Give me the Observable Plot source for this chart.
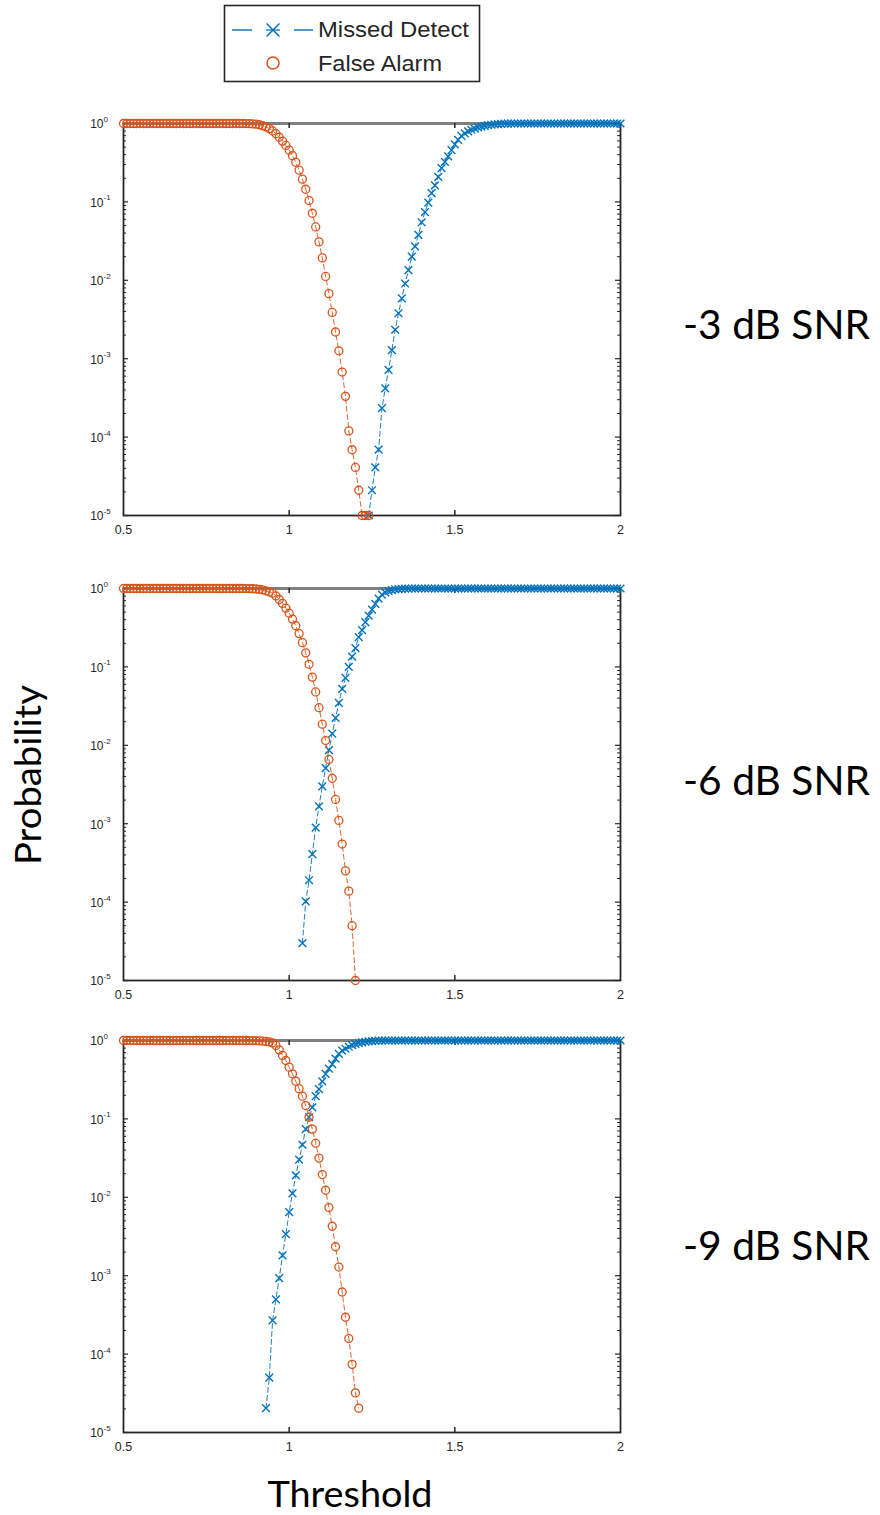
<!DOCTYPE html>
<html>
<head>
<meta charset="utf-8">
<script src="https://cdn.jsdelivr.net/npm/d3@7"></script>
<script src="https://cdn.jsdelivr.net/npm/@observablehq/plot@0.6"></script>
<style>
  html, body { margin: 0; padding: 0; background: #fff; }
  #root { position: relative; width: 880px; height: 1515px; overflow: hidden; background: #fff; }
  #root svg { position: absolute; overflow: visible; }
</style>
</head>
<body>
<div id="root"></div>
<script>
// ---------------- DATA ----------------
// Threshold grid step is 0.01; each series lists probabilities from its start threshold.
const panelLabels = ["-3 dB SNR", "-6 dB SNR", "-9 dB SNR"];
const seriesNames = ["Missed Detect", "False Alarm"];
const xTickValues = [0.5, 1, 1.5, 2];
const yTickExponents = [0, -1, -2, -3, -4, -5];

// -3 dB SNR
const falseAlarmStart_m3 = 0.50;
const falseAlarm_m3 = [
  1,1,1,1,1,1,1,1,1,1,                                                  // 0.50–0.59
  1,1,1,1,1,1,1,1,1,1,                                                  // 0.60–0.69
  1,1,1,1,1,1,1,1,1,1,                                                  // 0.70–0.79
  1,1,1,1,1,1,1,0.998,0.995,0.989,                                      // 0.80–0.89
  0.979,0.964,0.940,0.906,0.861,0.804,0.741,0.668,0.596,0.525,          // 0.90–0.99
  0.457,0.389,0.320,0.254,0.195,0.145,0.104,0.0716,0.0479,0.0309,       // 1.00–1.09
  0.0193,0.0112,0.00676,0.00389,0.00219,0.00126,0.000676,0.000331,0.000120,0.000069, // 1.10–1.19
  0.000041,0.000021,0.00001,0.00001,0.00001                             // 1.20–1.24
];
const missedDetectStart_m3 = 1.24;
const missedDetect_m3 = [
  0.00001,0.000021,0.000041,0.000069,0.000234,0.000417,                 // 1.24–1.29
  0.00072,0.00129,0.00234,0.0038,0.0059,0.0091,0.0135,0.020,0.027,0.038, // 1.30–1.39
  0.055,0.074,0.098,0.129,0.162,0.209,0.269,0.324,0.380,0.457,          // 1.40–1.49
  0.543,0.617,0.697,0.750,0.794,0.832,0.861,0.891,0.912,0.933,          // 1.50–1.59
  0.951,0.964,0.975,0.984,0.991,0.995,0.998,1,1,1,                      // 1.60–1.69
  1,1,1,1,1,1,1,1,1,1,                                                  // 1.70–1.79
  1,1,1,1,1,1,1,1,1,1,                                                  // 1.80–1.89
  1,1,1,1,1,1,1,1,1,1,1                                                 // 1.90–2.00
];

// -6 dB SNR
const falseAlarmStart_m6 = 0.50;
const falseAlarm_m6 = [
  1,1,1,1,1,1,1,1,1,1,                                                  // 0.50–0.59
  1,1,1,1,1,1,1,1,1,1,                                                  // 0.60–0.69
  1,1,1,1,1,1,1,1,1,1,                                                  // 0.70–0.79
  1,1,1,1,1,1,1,0.999,0.997,0.993,                                      // 0.80–0.89
  0.986,0.975,0.958,0.935,0.905,0.871,0.804,0.724,0.646,0.562,          // 0.90–0.99
  0.484,0.407,0.335,0.266,0.204,0.151,0.108,0.0741,0.0479,0.0302,       // 1.00–1.09
  0.0186,0.0115,0.0066,0.0038,0.00204,0.0011,0.00055,0.00025,0.000138,0.00005, // 1.10–1.19
  0.00001                                                               // 1.20
];
const missedDetectStart_m6 = 1.04;
const missedDetect_m6 = [
  0.00003,0.000102,0.00019,0.00041,0.00089,0.00166,                     // 1.04–1.09
  0.0030,0.0051,0.0087,0.0141,0.0224,0.0347,0.0525,0.0724,0.100,0.135,  // 1.10–1.19
  0.174,0.240,0.295,0.372,0.452,0.537,0.638,0.741,0.838,0.891,          // 1.20–1.29
  0.929,0.955,0.973,0.984,0.991,0.995,0.998,1,1,1,                      // 1.30–1.39
  1,1,1,1,1,1,1,1,1,1,                                                  // 1.40–1.49
  1,1,1,1,1,1,1,1,1,1,                                                  // 1.50–1.59
  1,1,1,1,1,1,1,1,1,1,                                                  // 1.60–1.69
  1,1,1,1,1,1,1,1,1,1,                                                  // 1.70–1.79
  1,1,1,1,1,1,1,1,1,1,                                                  // 1.80–1.89
  1,1,1,1,1,1,1,1,1,1,1                                                 // 1.90–2.00
];

// -9 dB SNR
const falseAlarmStart_m9 = 0.50;
const falseAlarm_m9 = [
  1,1,1,1,1,1,1,1,1,1,                                                  // 0.50–0.59
  1,1,1,1,1,1,1,1,1,1,                                                  // 0.60–0.69
  1,1,1,1,1,1,1,1,1,1,                                                  // 0.70–0.79
  1,1,1,1,1,1,1,1,0.999,0.998,                                          // 0.80–0.89
  0.995,0.990,0.983,0.974,0.962,0.933,0.866,0.760,0.646,0.556,          // 0.90–0.99
  0.457,0.376,0.302,0.243,0.195,0.148,0.105,0.0741,0.049,0.0316,        // 1.00–1.09
  0.0195,0.0123,0.0074,0.00427,0.00234,0.00129,0.00062,0.000295,0.000158,0.000074, // 1.10–1.19
  0.000032,0.0000204                                                    // 1.20–1.21
];
const missedDetectStart_m9 = 0.93;
const missedDetect_m9 = [
  0.0000204,0.00005,0.000269,0.0005,0.00093,0.00182,0.00339,            // 0.93–0.99
  0.00646,0.0112,0.019,0.0302,0.0468,0.0741,0.105,0.140,0.195,0.240,    // 1.00–1.09
  0.302,0.376,0.437,0.501,0.589,0.676,0.741,0.785,0.832,0.871,          // 1.10–1.19
  0.902,0.927,0.948,0.964,0.975,0.984,0.991,0.995,0.998,1,              // 1.20–1.29
  1,1,1,1,1,1,1,1,1,1,                                                  // 1.30–1.39
  1,1,1,1,1,1,1,1,1,1,                                                  // 1.40–1.49
  1,1,1,1,1,1,1,1,1,1,                                                  // 1.50–1.59
  1,1,1,1,1,1,1,1,1,1,                                                  // 1.60–1.69
  1,1,1,1,1,1,1,1,1,1,                                                  // 1.70–1.79
  1,1,1,1,1,1,1,1,1,1,                                                  // 1.80–1.89
  1,1,1,1,1,1,1,1,1,1,1                                                 // 1.90–2.00
];

// ---------------- BUILD ----------------
const BLUE = "#0072BD", ORANGE = "#D95319", AXIS = "#262626";

function rowsOf(start, values) {
  return values.map((p, i) => ({threshold: Math.round(start * 100 + i) / 100, probability: p}));
}

const panels = [
  {label: panelLabels[0], md: rowsOf(missedDetectStart_m3, missedDetect_m3), fa: rowsOf(falseAlarmStart_m3, falseAlarm_m3)},
  {label: panelLabels[1], md: rowsOf(missedDetectStart_m6, missedDetect_m6), fa: rowsOf(falseAlarmStart_m6, falseAlarm_m6)},
  {label: panelLabels[2], md: rowsOf(missedDetectStart_m9, missedDetect_m9), fa: rowsOf(falseAlarmStart_m9, falseAlarm_m9)}
];

// layout
const panelTops = [113, 578, 1030];
const labelBaselines = [339, 795, 1260];
const W = 660, H = 432, ML = 123, MR = 40, MT = 10, MB = 30;
const PW = W - ML - MR, PH = H - MT - MB;

const majorY = yTickExponents.map(e => Math.pow(10, e));
const minorY = d3.range(-5, 0).flatMap(k => d3.range(2, 10).map(m => m * Math.pow(10, k)));
const innerX = xTickValues.slice(1, -1);

function makePanel(p) {
  return Plot.plot({
    width: W, height: H,
    marginLeft: ML, marginRight: MR, marginTop: MT, marginBottom: MB,
    x: {domain: [0.5, 2], label: null},
    y: {type: "log", domain: [1e-5, 1], axis: null, label: null},
    style: {background: "transparent", fontFamily: "'Liberation Sans', Arial, sans-serif", color: AXIS, overflow: "visible"},
    marks: [
      Plot.frame({stroke: AXIS, strokeWidth: 1.8}),
      Plot.ruleY([1], {stroke: "#7f7f7f", strokeWidth: 3}),
      Plot.tickY(majorY, {y: d => d, insetRight: PW - 5, stroke: AXIS, strokeWidth: 1.2}),
      Plot.tickY(majorY, {y: d => d, insetLeft: PW - 5, stroke: AXIS, strokeWidth: 1.2}),
      Plot.tickY(minorY, {y: d => d, insetRight: PW - 3, stroke: AXIS}),
      Plot.tickY(minorY, {y: d => d, insetLeft: PW - 3, stroke: AXIS}),
      Plot.tickX(innerX, {x: d => d, insetTop: PH - 5, stroke: AXIS, strokeWidth: 1.5}),
      Plot.tickX(innerX, {x: d => d, insetBottom: PH - 5, stroke: AXIS, strokeWidth: 1.5}),
      Plot.axisX(xTickValues, {tickSize: 0, tickPadding: 10, fontSize: 12.5, tickFormat: d => String(d), label: null}),
      Plot.text(yTickExponents, {y: e => Math.pow(10, e), text: () => "10", frameAnchor: "left", textAnchor: "end", dx: -20, dy: 1, fontSize: 12, fill: AXIS}),
      Plot.text(yTickExponents, {y: e => Math.pow(10, e), text: e => String(e), frameAnchor: "left", textAnchor: "start", dx: -20, dy: -4, fontSize: 8, fill: AXIS}),
      Plot.line(p.md, {x: "threshold", y: "probability", stroke: BLUE, strokeWidth: 0.9, strokeDasharray: "5,3"}),
      Plot.dot(p.md, {x: "threshold", y: "probability", symbol: "times", r: 3.6, stroke: BLUE, strokeWidth: 1.4}),
      Plot.line(p.fa, {x: "threshold", y: "probability", stroke: ORANGE, strokeWidth: 0.9, strokeDasharray: "5,3"}),
      Plot.dot(p.fa, {x: "threshold", y: "probability", symbol: "circle", r: 4, stroke: ORANGE, fill: "none", strokeWidth: 1.3})
    ]
  });
}

const root = document.getElementById("root");
panels.forEach((p, i) => {
  const svg = makePanel(p);
  svg.style.left = "0px";
  svg.style.top = panelTops[i] + "px";
  root.appendChild(svg);
});

// overlay: legend and labels
const ov = d3.select(root).append("svg")
  .attr("width", 880).attr("height", 1515)
  .style("left", "0px").style("top", "0px");

// legend
const lg = ov.append("g");
lg.append("rect").attr("x", 224.5).attr("y", 5.5).attr("width", 255).attr("height", 76)
  .attr("fill", "#fff").attr("stroke", AXIS).attr("stroke-width", 1.6);
lg.append("line").attr("x1", 232).attr("x2", 252).attr("y1", 30).attr("y2", 30).attr("stroke", BLUE).attr("stroke-width", 1.4);
lg.append("line").attr("x1", 294).attr("x2", 313).attr("y1", 30).attr("y2", 30).attr("stroke", BLUE).attr("stroke-width", 1.4);
lg.append("path").attr("d", d3.symbol(d3.symbolTimes, 110)()).attr("transform", "translate(273,30)")
  .attr("fill", "none").attr("stroke", BLUE).attr("stroke-width", 1.5);
lg.append("line").attr("x1", 266).attr("x2", 280).attr("y1", 30).attr("y2", 30).attr("stroke", BLUE).attr("stroke-width", 1.3);
lg.append("circle").attr("cx", 273).attr("cy", 63).attr("r", 6).attr("fill", "none").attr("stroke", ORANGE).attr("stroke-width", 1.5);
lg.append("text").attr("x", 318).attr("y", 37).attr("font-family", "'Liberation Sans', Arial, sans-serif")
  .attr("font-size", 22).attr("fill", AXIS).attr("textLength", 151).attr("lengthAdjust", "spacingAndGlyphs").text(seriesNames[0]);
lg.append("text").attr("x", 318).attr("y", 71).attr("font-family", "'Liberation Sans', Arial, sans-serif")
  .attr("font-size", 22).attr("fill", AXIS).attr("textLength", 124).attr("lengthAdjust", "spacingAndGlyphs").text(seriesNames[1]);

// panel labels
panels.forEach((p, i) => {
  ov.append("text").attr("x", 683).attr("y", labelBaselines[i])
    .attr("font-family", "Lato, 'Open Sans', sans-serif").attr("font-size", 40).attr("fill", "#000")
    .attr("textLength", 187).attr("lengthAdjust", "spacingAndGlyphs").text(p.label);
});

// axis titles
ov.append("text").attr("transform", "translate(41,775) rotate(-90)").attr("text-anchor", "middle")
  .attr("font-family", "Lato, 'Open Sans', sans-serif").attr("font-size", 36).attr("fill", "#000")
  .attr("textLength", 180).attr("lengthAdjust", "spacingAndGlyphs").text("Probability");
ov.append("text").attr("x", 350).attr("y", 1507).attr("text-anchor", "middle")
  .attr("font-family", "Lato, 'Open Sans', sans-serif").attr("font-size", 36).attr("fill", "#000")
  .attr("textLength", 165).attr("lengthAdjust", "spacingAndGlyphs").text("Threshold");
</script>
</body>
</html>
